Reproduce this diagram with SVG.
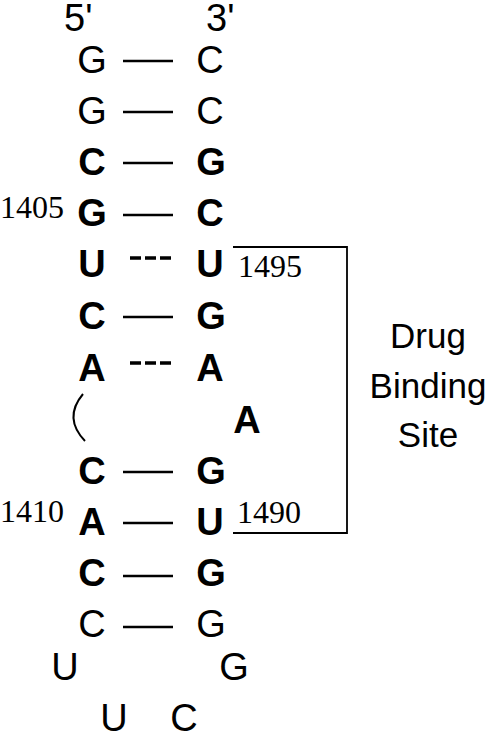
<svg xmlns="http://www.w3.org/2000/svg" width="498" height="735" viewBox="0 0 498 735">
<style>
.b{font-family:"Liberation Sans",Arial,sans-serif;font-size:38px;text-anchor:middle;fill:#000}
.bb{font-weight:bold}
.n{font-family:"Liberation Serif","Times New Roman",serif;font-size:32px;fill:#000}
.lbl{font-family:"Liberation Sans",Arial,sans-serif;font-size:35px;text-anchor:middle;fill:#000}
.p{stroke:#000;stroke-width:2.5;fill:none}
.d{stroke:#000;stroke-width:3.4;fill:none;stroke-dasharray:11,4}
.br{stroke:#000;stroke-width:1.8;fill:none}
</style>
<rect width="498" height="735" fill="#fff"/>
<g id="ends">
<text class="b" x="64" y="31" style="text-anchor:start">5'</text>
<text class="b" x="206" y="31" style="text-anchor:start">3'</text>
</g>
<g id="connectors">
<line class="p" x1="123" y1="61" x2="173" y2="61"/>
<line class="p" x1="123" y1="112" x2="173" y2="112"/>
<line class="p" x1="123" y1="163" x2="173" y2="163"/>
<line class="p" x1="123" y1="215" x2="173" y2="215"/>
<line class="d" x1="130" y1="258" x2="172" y2="258"/>
<line class="p" x1="123" y1="317" x2="173" y2="317"/>
<line class="d" x1="130" y1="363" x2="172" y2="363"/>
<path class="br" d="M83 394 Q63 418 85 441" style="stroke-width:2"/>
<line class="p" x1="123" y1="472" x2="173" y2="472"/>
<line class="p" x1="123" y1="523" x2="173" y2="523"/>
<line class="p" x1="123" y1="576" x2="173" y2="576"/>
<line class="p" x1="123" y1="627" x2="173" y2="627"/>
<polyline class="br" points="233,247 347,247 347,533 233,533"/>
</g>
<g id="left">
<text class="b" x="92" y="73">G</text>
<text class="b" x="92" y="124">G</text>
<text class="b bb" x="92" y="175">C</text>
<text class="b bb" x="92" y="226">G</text>
<text class="b bb" x="92" y="277">U</text>
<text class="b bb" x="92" y="329">C</text>
<text class="b bb" x="92" y="381">A</text>
<text class="b bb" x="92" y="484">C</text>
<text class="b bb" x="92" y="535">A</text>
<text class="b bb" x="92" y="586">C</text>
<text class="b" x="92" y="637">C</text>
<text class="b" x="65" y="680">U</text>
<text class="b" x="114" y="731">U</text>
</g>
<g id="right">
<text class="b" x="210" y="73">C</text>
<text class="b" x="210" y="124">C</text>
<text class="b bb" x="211" y="175">G</text>
<text class="b bb" x="210" y="226">C</text>
<text class="b bb" x="210" y="277">U</text>
<text class="b bb" x="211" y="329">G</text>
<text class="b bb" x="210" y="381">A</text>
<text class="b bb" x="247" y="433">A</text>
<text class="b bb" x="211" y="484">G</text>
<text class="b bb" x="210" y="535">U</text>
<text class="b bb" x="211" y="586">G</text>
<text class="b" x="211" y="637">G</text>
<text class="b" x="234" y="680">G</text>
<text class="b" x="184" y="731">C</text>
</g>
<g id="numbers">
<text class="n" x="0" y="218">1405</text>
<text class="n" x="0" y="522">1410</text>
<text class="n" x="238" y="277">1495</text>
<text class="n" x="237" y="523">1490</text>
</g>
<g id="site">
<text class="lbl" x="428" y="348">Drug</text>
<text class="lbl" x="428" y="398">Binding</text>
<text class="lbl" x="428" y="447">Site</text>
</g>
</svg>
